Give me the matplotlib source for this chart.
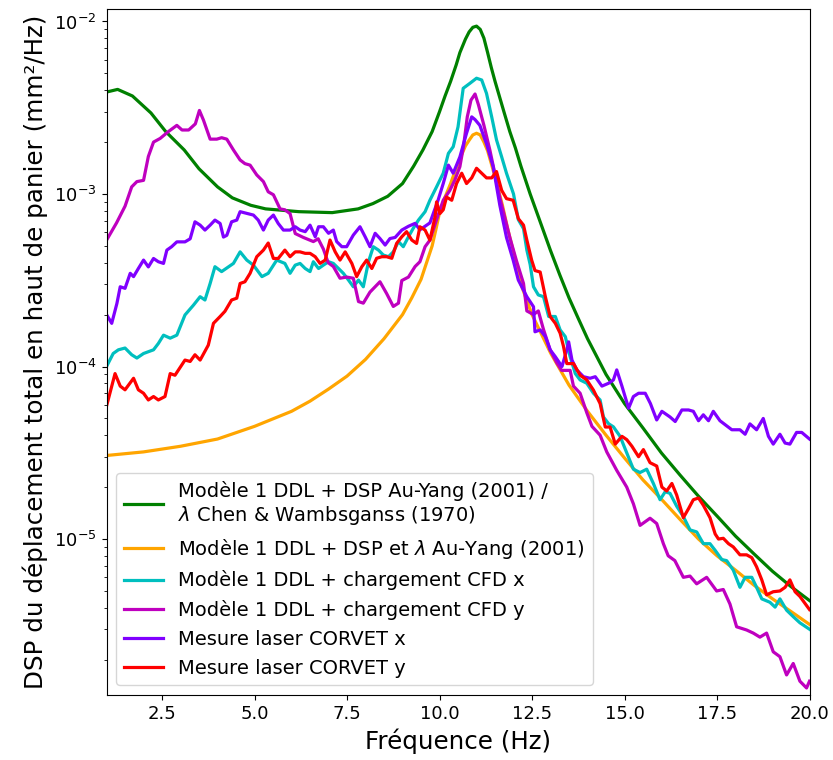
import numpy as np
import matplotlib
matplotlib.use("Agg")
import matplotlib.pyplot as plt

# Modèle 1 DDL + DSP Au-Yang / lambda Chen & Wambsganss
f_green = [1.0, 1.3, 1.7, 2.2, 2.6, 3.1, 3.5, 4.0, 4.4, 4.9, 5.3, 6.2, 7.1, 7.8, 8.2, 8.6,
           9.0, 9.3, 9.55, 9.8, 10.0, 10.15, 10.3, 10.45, 10.55, 10.7, 10.8, 10.9, 11.0, 11.1,
           11.2, 11.3, 11.4, 11.5, 11.6, 11.75, 11.9, 12.05, 12.2, 12.45, 12.7, 13.0, 13.25, 13.5,
           13.75, 14.0, 14.5, 15.0, 15.5, 16.0, 16.5, 17.0, 17.5, 18.0, 18.5, 19.0, 19.5, 20.0]
v_green = [3.9e-3, 4.04e-3, 3.7e-3, 2.95e-3, 2.3e-3, 1.8e-3, 1.4e-3, 1.1e-3, 9.5e-4, 8.6e-4, 8.2e-4,
           7.9e-4, 7.8e-4, 8.2e-4, 8.8e-4, 9.7e-4, 1.15e-3, 1.45e-3, 1.8e-3, 2.3e-3, 3.0e-3, 3.7e-3,
           4.5e-3, 5.6e-3, 6.6e-3, 7.9e-3, 8.7e-3, 9.25e-3, 9.4e-3, 9.0e-3, 8.0e-3, 6.6e-3, 5.4e-3,
           4.5e-3, 3.8e-3, 2.95e-3, 2.3e-3, 1.85e-3, 1.45e-3, 1.0e-3, 7.1e-4, 4.7e-4, 3.4e-4, 2.5e-4,
           1.9e-4, 1.45e-4, 9.0e-5, 6.1e-5, 4.4e-5, 3.15e-5, 2.35e-5, 1.77e-5, 1.36e-5, 1.04e-5,
           8.2e-6, 6.5e-6, 5.3e-6, 4.4e-6]

# Modèle 1 DDL + DSP et lambda Au-Yang
f_orange = [1.0, 2.0, 3.0, 4.0, 5.0, 6.0, 6.5, 7.0, 7.5, 8.0, 8.5, 9.0, 9.25, 9.5, 9.65, 9.8, 9.9,
            10.0, 10.15, 10.3, 10.4, 10.55, 10.7, 10.8, 10.9, 11.0, 11.1, 11.2, 11.3, 11.4, 11.55,
            11.7, 11.85, 12.0, 12.2, 12.5, 13.0, 13.5, 14.0, 14.5, 15.0, 15.5, 16.0, 16.5, 17.0,
            17.5, 18.0, 18.5, 19.0, 19.5, 20.0]
v_orange = [3.05e-5, 3.2e-5, 3.45e-5, 3.8e-5, 4.5e-5, 5.5e-5, 6.3e-5, 7.4e-5, 8.8e-5, 1.1e-4, 1.45e-4,
            2.0e-4, 2.5e-4, 3.2e-4, 4.0e-4, 5.0e-4, 6.2e-4, 7.8e-4, 9.6e-4, 1.15e-3, 1.32e-3, 1.6e-3,
            1.9e-3, 2.05e-3, 2.2e-3, 2.25e-3, 2.2e-3, 2.0e-3, 1.78e-3, 1.5e-3, 1.15e-3, 8.6e-4, 6.2e-4,
            4.6e-4, 3.0e-4, 2.0e-4, 1.2e-4, 7.8e-5, 5.5e-5, 4.0e-5, 2.95e-5, 2.2e-5, 1.7e-5, 1.3e-5,
            1.0e-5, 8.0e-6, 6.6e-6, 5.4e-6, 4.5e-6, 3.8e-6, 3.2e-6]

# Modèle 1 DDL + chargement CFD x
f_cyan = [1.0, 1.18, 1.32, 1.5, 1.68, 1.82, 2.0, 2.27, 2.4, 2.54, 2.72, 2.9, 3.12, 3.35, 3.53, 3.66,
          3.8, 3.93, 4.11, 4.43, 4.61, 4.79, 4.97, 5.2, 5.37, 5.6, 5.82, 5.96, 6.1, 6.23, 6.37, 6.5,
          6.59, 6.73, 6.86, 7.0, 7.13, 7.27, 7.4, 7.54, 7.67, 7.81, 7.94, 8.08, 8.21, 8.35, 8.48,
          8.62, 8.75, 8.89, 9.02, 9.16, 9.29, 9.43, 9.61, 9.74, 9.92, 10.1, 10.24, 10.37, 10.5,
          10.64, 10.82, 11.0, 11.14, 11.27, 11.41, 11.54, 11.68, 11.81, 12.0, 12.13, 12.27, 12.36,
          12.45, 12.54, 12.67, 12.81, 12.95, 13.13, 13.26, 13.4, 13.53, 13.67, 13.8, 13.98, 14.16,
          14.34, 14.43, 14.57, 14.7, 14.88, 15.06, 15.24, 15.42, 15.6, 15.78, 15.96, 16.1, 16.23,
          16.41, 16.59, 16.77, 16.95, 17.13, 17.31, 17.45, 17.63, 17.76, 17.94, 18.12, 18.26, 18.44,
          18.57, 18.71, 18.93, 19.07, 19.2, 19.38, 19.56, 19.74, 20.0]
v_cyan = [1.0e-4, 1.19e-4, 1.25e-4, 1.28e-4, 1.17e-4, 1.12e-4, 1.19e-4, 1.25e-4, 1.36e-4, 1.52e-4,
          1.46e-4, 1.52e-4, 1.99e-4, 2.27e-4, 2.54e-4, 2.43e-4, 3.03e-4, 3.79e-4, 3.55e-4, 3.96e-4,
          4.62e-4, 4.14e-4, 3.87e-4, 3.32e-4, 3.47e-4, 4.14e-4, 3.96e-4, 3.47e-4, 3.87e-4, 3.96e-4,
          3.7e-4, 3.55e-4, 4.05e-4, 3.7e-4, 3.87e-4, 4.05e-4, 3.96e-4, 3.7e-4, 3.47e-4, 3.17e-4,
          2.9e-4, 3.17e-4, 2.9e-4, 4.05e-4, 4.95e-4, 4.73e-4, 4.43e-4, 4.33e-4, 4.62e-4, 5.3e-4,
          4.95e-4, 5.65e-4, 6.33e-4, 7.06e-4, 7.9e-4, 9.2e-4, 1.1e-3, 1.32e-3, 1.72e-3, 1.88e-3,
          2.45e-3, 4.1e-3, 4.38e-3, 4.69e-3, 4.58e-3, 3.83e-3, 2.8e-3, 2.06e-3, 1.64e-3, 1.32e-3,
          1.0e-3, 7.1e-4, 6.3e-4, 4.73e-4, 3.9e-4, 2.9e-4, 2.6e-4, 2.54e-4, 1.95e-4, 1.95e-4,
          1.63e-4, 1.49e-4, 1.14e-4, 9.1e-5, 8.36e-5, 8.0e-5, 7.0e-5, 6.4e-5, 5.1e-5, 4.66e-5,
          4.47e-5, 3.94e-5, 3.16e-5, 2.54e-5, 2.43e-5, 2.54e-5, 2.1e-5, 1.69e-5, 1.88e-5, 1.84e-5,
          1.55e-5, 1.35e-5, 1.13e-5, 1.1e-5, 9.4e-6, 9.4e-6, 8.6e-6, 7.6e-6, 7.5e-6, 6.6e-6, 5.25e-6,
          6.0e-6, 6.0e-6, 5.25e-6, 4.5e-6, 4.3e-6, 4.03e-6, 4.5e-6, 3.87e-6, 3.55e-6, 3.27e-6, 3.0e-6]

# Modèle 1 DDL + chargement CFD y
f_mag = [1.0, 1.27, 1.5, 1.68, 1.82, 2.0, 2.13, 2.27, 2.45, 2.67, 2.9, 3.04, 3.22, 3.4, 3.51, 3.62,
         3.8, 3.98, 4.11, 4.25, 4.43, 4.61, 4.74, 4.88, 5.06, 5.24, 5.37, 5.51, 5.69, 5.82, 5.96,
         6.1, 6.32, 6.59, 6.72, 6.86, 6.99, 7.13, 7.31, 7.49, 7.67, 7.81, 7.94, 8.12, 8.39, 8.57,
         8.75, 8.89, 8.98, 9.16, 9.34, 9.47, 9.61, 9.74, 9.83, 9.92, 10.1, 10.28, 10.41, 10.55,
         10.65, 10.75, 10.85, 10.96, 11.05, 11.2, 11.36, 11.5, 11.63, 11.9, 12.08, 12.27, 12.36,
         12.54, 12.67, 12.81, 12.99, 13.17, 13.3, 13.53, 13.62, 13.8, 13.98, 14.12, 14.34, 14.52,
         14.79, 15.06, 15.24, 15.42, 15.69, 15.87, 16.05, 16.18, 16.36, 16.59, 16.77, 16.95,
         17.22, 17.49, 17.67, 17.85, 18.03, 18.3, 18.48, 18.66, 18.84, 19.02, 19.2, 19.38, 19.56,
         19.74, 19.92, 20.0]
v_mag = [5.4e-4, 6.8e-4, 8.5e-4, 1.1e-3, 1.18e-3, 1.2e-3, 1.65e-3, 2.0e-3, 2.1e-3, 2.3e-3, 2.5e-3,
         2.35e-3, 2.35e-3, 2.55e-3, 3.05e-3, 2.68e-3, 2.08e-3, 2.08e-3, 2.12e-3, 2.08e-3, 1.8e-3,
         1.575e-3, 1.5e-3, 1.47e-3, 1.29e-3, 1.18e-3, 1.03e-3, 9.9e-4, 8.2e-4, 8.1e-4, 7.7e-4,
         5.9e-4, 5.6e-4, 5.3e-4, 5.5e-4, 4.8e-4, 4.0e-4, 3.8e-4, 3.25e-4, 3.3e-4, 3.25e-4, 2.38e-4,
         2.33e-4, 2.7e-4, 3.1e-4, 2.65e-4, 2.23e-4, 2.33e-4, 3.15e-4, 3.3e-4, 3.8e-4, 4.05e-4,
         4.95e-4, 5.4e-4, 6.2e-4, 7.1e-4, 9.2e-4, 1.05e-3, 1.2e-3, 1.44e-3, 1.9e-3, 2.8e-3, 3.5e-3,
         3.8e-3, 3.3e-3, 2.5e-3, 1.8e-3, 1.3e-3, 9.5e-4, 5.6e-4, 4.1e-4, 3.03e-4, 2.1e-4, 2.0e-4,
         2.1e-4, 1.64e-4, 1.25e-4, 1.05e-4, 9.5e-5, 9.5e-5, 7.7e-5, 7.0e-5, 5.4e-5, 4.5e-5, 4.0e-5,
         3.2e-5, 2.5e-5, 2.0e-5, 1.6e-5, 1.2e-5, 1.32e-5, 1.23e-5, 9.4e-6, 8.0e-6, 7.5e-6, 6.0e-6,
         6.1e-6, 5.5e-6, 6.0e-6, 5.0e-6, 5.1e-6, 4.2e-6, 3.1e-6, 2.97e-6, 2.85e-6, 2.7e-6, 2.85e-6,
         2.22e-6, 2.08e-6, 1.63e-6, 1.9e-6, 1.5e-6, 1.37e-6, 1.5e-6]

# Mesure laser CORVET x
f_purple = [1.0, 1.14, 1.28, 1.37, 1.5, 1.64, 1.73, 1.86, 2.0, 2.13, 2.27, 2.4, 2.54, 2.63, 2.76,
            2.9, 3.12, 3.26, 3.39, 3.53, 3.66, 3.8, 3.93, 4.07, 4.16, 4.25, 4.38, 4.52, 4.61, 4.79,
            4.97, 5.1, 5.24, 5.37, 5.51, 5.64, 5.78, 5.96, 6.1, 6.23, 6.37, 6.5, 6.64, 6.73, 6.86,
            7.0, 7.13, 7.22, 7.36, 7.49, 7.67, 7.85, 7.99, 8.12, 8.26, 8.39, 8.53, 8.66, 8.8, 8.98,
            9.16, 9.34, 9.47, 9.74, 9.96, 10.1, 10.24, 10.37, 10.55, 10.73, 10.87, 10.96, 11.09,
            11.27, 11.45, 11.63, 11.81, 11.99, 12.13, 12.36, 12.54, 12.58, 12.72, 12.86, 12.99,
            13.13, 13.31, 13.44, 13.49, 13.58, 13.71, 13.89, 14.07, 14.21, 14.39, 14.57, 14.7,
            14.79, 14.93, 15.11, 15.24, 15.38, 15.56, 15.7, 15.87, 16.01, 16.23, 16.37, 16.55,
            16.73, 16.86, 17.0, 17.13, 17.27, 17.4, 17.58, 17.9, 18.12, 18.26, 18.39, 18.57, 18.75,
            18.89, 19.02, 19.2, 19.34, 19.47, 19.65, 19.79, 20.0]
v_purple = [2.0e-4, 1.78e-4, 2.32e-4, 2.9e-4, 2.84e-4, 3.47e-4, 3.32e-4, 3.7e-4, 4.14e-4, 3.78e-4,
            4.23e-4, 4.05e-4, 3.96e-4, 4.73e-4, 4.95e-4, 5.28e-4, 5.28e-4, 5.5e-4, 6.9e-4, 6.6e-4,
            6.18e-4, 6.6e-4, 7.06e-4, 6.75e-4, 5.63e-4, 5.76e-4, 6.9e-4, 7.06e-4, 7.9e-4, 7.72e-4,
            7.55e-4, 7.06e-4, 6.18e-4, 7.06e-4, 7.55e-4, 6.75e-4, 6.18e-4, 6.18e-4, 6.46e-4, 6.18e-4,
            6.05e-4, 6.6e-4, 5.65e-4, 6.46e-4, 6.46e-4, 5.92e-4, 6.18e-4, 5.3e-4, 4.95e-4, 4.95e-4,
            5.78e-4, 6.46e-4, 5.65e-4, 4.95e-4, 5.92e-4, 5.52e-4, 5.06e-4, 5.52e-4, 5.6e-4, 6.18e-4,
            6.5e-4, 6.76e-4, 6.2e-4, 6.8e-4, 9.2e-4, 1.15e-3, 1.47e-3, 1.32e-3, 1.64e-3, 2.25e-3,
            2.8e-3, 2.7e-3, 2.5e-3, 1.95e-3, 1.44e-3, 8.6e-4, 5.6e-4, 4.14e-4, 3.17e-4, 2.54e-4,
            2.22e-4, 1.59e-4, 1.63e-4, 1.49e-4, 1.25e-4, 1.14e-4, 1.0e-4, 1.25e-4, 1.39e-4, 1.09e-4,
            9.56e-5, 8.73e-5, 8.55e-5, 8.73e-5, 7.7e-5, 8.0e-5, 8.36e-5, 9.56e-5, 7.7e-5, 5.73e-5,
            6.7e-5, 7.0e-5, 7.0e-5, 6.1e-5, 4.9e-5, 5.5e-5, 5.1e-5, 4.8e-5, 5.6e-5, 5.6e-5, 5.5e-5,
            4.85e-5, 5.25e-5, 4.85e-5, 5.5e-5, 4.85e-5, 4.3e-5, 4.3e-5, 4.05e-5, 4.65e-5, 4.3e-5,
            5.0e-5, 3.94e-5, 3.55e-5, 4.05e-5, 3.6e-5, 3.55e-5, 4.15e-5, 4.15e-5, 3.8e-5]

# Mesure laser CORVET y
f_red = [1.0, 1.23, 1.37, 1.5, 1.73, 1.86, 2.0, 2.13, 2.27, 2.4, 2.58, 2.72, 2.85, 3.12, 3.26, 3.39,
         3.53, 3.75, 3.89, 4.07, 4.2, 4.38, 4.52, 4.61, 4.74, 4.88, 5.06, 5.24, 5.37, 5.51, 5.64,
         5.82, 5.96, 6.1, 6.23, 6.37, 6.5, 6.64, 6.77, 6.91, 7.04, 7.18, 7.31, 7.45, 7.63, 7.76,
         7.9, 8.03, 8.17, 8.3, 8.44, 8.57, 8.71, 8.84, 8.98, 9.11, 9.25, 9.38, 9.47, 9.61, 9.74,
         9.88, 9.92, 10.01, 10.1, 10.19, 10.33, 10.46, 10.6, 10.73, 10.87, 11.0, 11.14, 11.27,
         11.41, 11.54, 11.68, 11.81, 11.99, 12.13, 12.27, 12.36, 12.49, 12.58, 12.72, 12.86, 12.99,
         13.13, 13.26, 13.35, 13.44, 13.62, 13.8, 13.98, 14.16, 14.34, 14.48, 14.61, 14.75, 14.93,
         15.06, 15.2, 15.38, 15.51, 15.69, 15.87, 16.01, 16.14, 16.28, 16.41, 16.59, 16.73, 16.86,
         17.0, 17.13, 17.31, 17.45, 17.54, 17.67, 17.81, 17.94, 18.12, 18.3, 18.44, 18.57, 18.71,
         18.84, 19.02, 19.2, 19.34, 19.47, 19.61, 19.74, 20.0]
v_red = [5.9e-5, 9.1e-5, 7.7e-5, 7.33e-5, 8.55e-5, 7.33e-5, 7.0e-5, 6.4e-5, 6.7e-5, 6.4e-5, 6.7e-5,
         9.1e-5, 8.9e-5, 1.09e-4, 1.07e-4, 1.17e-4, 1.09e-4, 1.33e-4, 1.78e-4, 1.95e-4, 2.09e-4,
         2.43e-4, 2.49e-4, 3.03e-4, 3.1e-4, 3.47e-4, 4.33e-4, 4.73e-4, 5.2e-4, 4.23e-4, 4.23e-4,
         4.73e-4, 4.33e-4, 4.62e-4, 4.62e-4, 4.53e-4, 4.53e-4, 4.33e-4, 3.96e-4, 4.14e-4, 5.41e-4,
         4.62e-4, 4.14e-4, 4.62e-4, 3.96e-4, 3.32e-4, 3.79e-4, 4.14e-4, 3.7e-4, 4.24e-4, 4.33e-4,
         4.33e-4, 4.24e-4, 5.17e-4, 5.65e-4, 6.05e-4, 5.41e-4, 5.17e-4, 6.46e-4, 6.18e-4, 5.4e-4,
         7.4e-4, 9.0e-4, 7.7e-4, 8.1e-4, 9.6e-4, 9.2e-4, 1.15e-3, 1.32e-3, 1.15e-3, 1.24e-3,
         1.41e-3, 1.32e-3, 1.24e-3, 1.24e-3, 1.35e-3, 1.05e-3, 9.4e-4, 9.2e-4, 7.2e-4, 6.6e-4,
         5.41e-4, 4.14e-4, 3.6e-4, 3.53e-4, 2.54e-4, 1.95e-4, 1.78e-4, 1.56e-4, 1.31e-4, 1.04e-4,
         1.04e-4, 8.9e-5, 8.36e-5, 7.3e-5, 6.1e-5, 4.46e-5, 4.46e-5, 3.55e-5, 3.94e-5, 3.77e-5,
         3.45e-5, 3.0e-5, 3.3e-5, 2.77e-5, 2.65e-5, 2.0e-5, 1.9e-5, 2.1e-5, 1.8e-5, 1.33e-5,
         1.5e-5, 1.69e-5, 1.73e-5, 1.57e-5, 1.33e-5, 1.07e-5, 1.0e-5, 1.01e-5, 9.4e-6, 9.0e-6,
         8.1e-6, 8.1e-6, 7.8e-6, 6.9e-6, 5.8e-6, 4.75e-6, 4.95e-6, 5.0e-6, 5.25e-6, 5.8e-6, 4.95e-6,
         4.65e-6, 3.9e-6]

labels = ["Modèle 1 DDL + DSP Au-Yang (2001) /\n$\\lambda$ Chen & Wambsganss (1970)",
          "Modèle 1 DDL + DSP et $\\lambda$ Au-Yang (2001)",
          "Modèle 1 DDL + chargement CFD x",
          "Modèle 1 DDL + chargement CFD y",
          "Mesure laser CORVET x",
          "Mesure laser CORVET y"]

fig = plt.figure(figsize=(8.33, 7.6), dpi=100)
ax = fig.add_axes([0.1279, 0.0855, 0.8439, 0.9027])

lw = 2.3
ax.plot(f_green, v_green, color='g', lw=lw, label=labels[0])
ax.plot(f_orange, v_orange, color='orange', lw=lw, label=labels[1])
ax.plot(f_cyan, v_cyan, color='c', lw=lw, label=labels[2])
ax.plot(f_mag, v_mag, color='m', lw=lw, label=labels[3])
ax.plot(f_purple, v_purple, color='#8000ff', lw=lw, label=labels[4])
ax.plot(f_red, v_red, color='r', lw=lw, label=labels[5])

ax.set_yscale('log')
ax.set_xlim(1, 20)
ax.set_ylim(1.247e-6, 1.182e-2)
ax.tick_params(labelsize=13)
ax.set_xlabel('Fréquence (Hz)', fontsize=17.7)
ax.set_ylabel('DSP du déplacement total en haut de panier (mm²/Hz)', fontsize=17.7)
ax.legend(loc='lower left', fontsize=14)

fig.savefig('out.png', dpi=100)
